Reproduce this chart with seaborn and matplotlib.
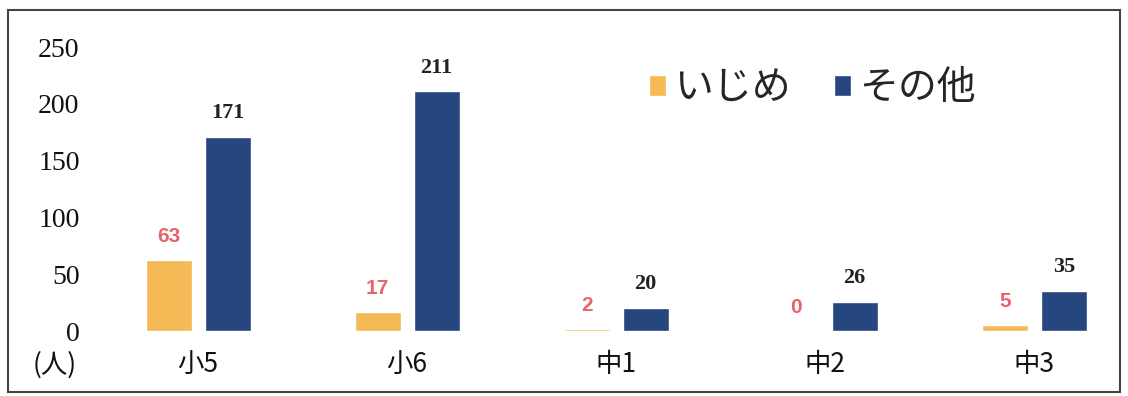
import numpy as np
import pandas as pd
import matplotlib
matplotlib.use("Agg")
import matplotlib.pyplot as plt
import seaborn as sns
from matplotlib.patches import Rectangle

# ---------------- data ----------------
grades = ["小5", "小6", "中1", "中2", "中3"]
ijime = [63, 17, 2, 0, 5]
other = [171, 211, 20, 26, 35]
series_names = ["いじめ", "その他"]
y_ticks = [0, 50, 100, 150, 200, 250]

df = pd.DataFrame({
    "grade": grades * 2,
    "count": ijime + other,
    "kind": [series_names[0]] * len(grades) + [series_names[1]] * len(grades),
})

# ---------------- style ----------------
sns.set_theme(style="white")
plt.rcParams["font.family"] = ["Noto Sans CJK JP", "DejaVu Sans"]

colors = {"いじめ": "#F5B955", "その他": "#26467F"}

fig = plt.figure(figsize=(11.28, 3.96), dpi=100)
ax = fig.add_axes([0.0829, 0.164, 0.910, 0.717])

sns.barplot(data=df, x="grade", y="count", hue="kind", palette=colors,
            width=0.564, gap=0.22, saturation=1, ax=ax)

ax.set_ylim(0, 250)
ax.set_xlim(-0.5, 4.41)
ax.set_yticks(y_ticks)
ax.set_yticklabels([str(t) for t in y_ticks], family="Liberation Serif",
                   fontsize=20, color="#111111")
ax.set_xticks(range(len(grades)))
ax.set_xticklabels(grades, fontsize=19, color="#111111")
ax.tick_params(axis="y", length=0, pad=10)
ax.tick_params(axis="x", length=0, pad=14)
ax.set_xlabel("")
ax.set_ylabel("")
for s in ax.spines.values():
    s.set_visible(False)

# value labels
ax.bar_label(ax.containers[0], labels=[str(v) for v in ijime], padding=10,
             color="#E8636B", fontsize=15, fontweight="bold", family="Liberation Sans")
ax.bar_label(ax.containers[1], labels=[str(v) for v in other], padding=10,
             color="#222222", fontsize=16, fontweight="bold", family="Liberation Serif")

# unit label
fig.text(55 / 1128, 1 - 365 / 396, "(人)", fontsize=19, ha="center", va="center",
         color="#111111")

# legend
handles, labels = ax.get_legend_handles_labels()
ax.legend(handles, labels, loc="center", bbox_to_anchor=(0.72, 0.778),
          bbox_transform=fig.transFigure, ncol=2, frameon=False, fontsize=28,
          handlelength=0.45, handleheight=0.45, handletextpad=0.2, columnspacing=1.1)

# outer frame
fig.patches.append(Rectangle((8 / 1128, 4 / 396), 1112 / 1128, 382 / 396,
                             transform=fig.transFigure, fill=False,
                             edgecolor="#444444", linewidth=1.5))

fig.savefig("out.png", dpi=100)
